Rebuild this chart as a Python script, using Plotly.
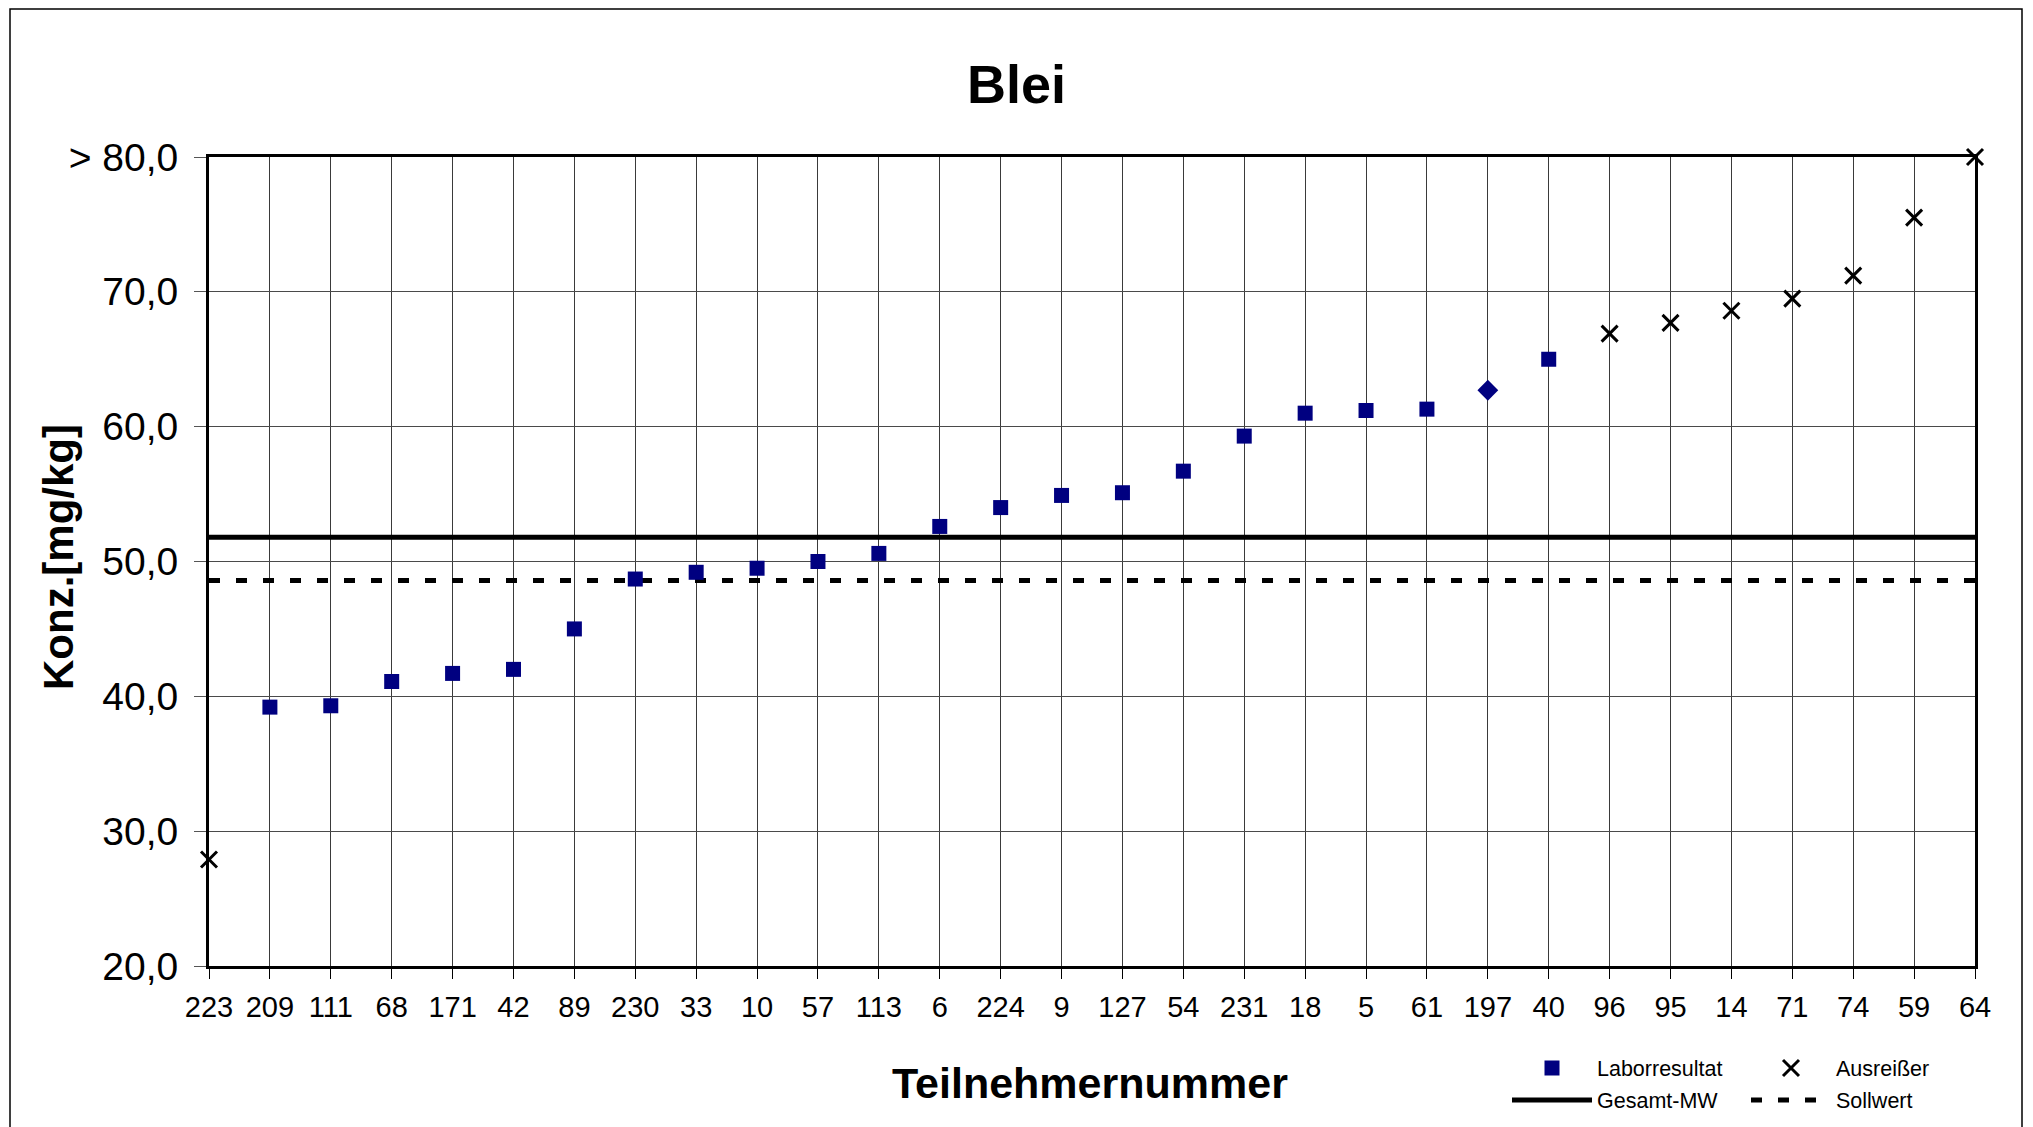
import plotly.graph_objects as go

# ---- data ----
teilnehmer = ["223", "209", "111", "68", "171", "42", "89", "230", "33", "10",
              "57", "113", "6", "224", "9", "127", "54", "231", "18", "5",
              "61", "197", "40", "96", "95", "14", "71", "74", "59", "64"]
werte = [27.9, 39.2, 39.3, 41.1, 41.7, 42.0, 45.0, 48.7, 49.2, 49.5,
         50.0, 50.6, 52.6, 54.0, 54.9, 55.1, 56.7, 59.3, 61.0, 61.2,
         61.3, 62.7, 65.0, 66.9, 67.7, 68.6, 69.5, 71.2, 75.5, 80.0]
# L = Laborresultat, A = Ausreißer, D = Laborresultat (Raute)
status = ["A", "L", "L", "L", "L", "L", "L", "L", "L", "L",
          "L", "L", "L", "L", "L", "L", "L", "L", "L", "L",
          "L", "D", "L", "A", "A", "A", "A", "A", "A", "A"]
gesamt_mw = 51.8
sollwert = 48.6
y_tickvals = [20, 30, 40, 50, 60, 70, 80]
y_ticktext = ["20,0", "30,0", "40,0", "50,0", "60,0", "70,0", "> 80,0"]

FONT = "Liberation Sans, Arial, sans-serif"
NAVY = "#000080"

OFF = 8                      # page (body) margin in the browser
W, H = 2033 - OFF, 1127 - OFF
# plot area in window pixels: x 209..1975, y 157..966
L, R = 209 - OFF, 2033 - 1975
T, B = 157 - OFF, 1127 - 966
pw, ph = W - L - R, H - T - B


def px_x(x):  # window px -> paper
    return (x - OFF - L) / pw


def px_y(y):
    return (H - B - (y - OFF)) / ph


def pick(code):
    xs = [t for t, s in zip(teilnehmer, status) if s == code]
    ys = [v for v, s in zip(werte, status) if s == code]
    return xs, ys


fig = go.Figure()

# reference lines
fig.add_trace(go.Scatter(
    x=[teilnehmer[0], teilnehmer[-1]], y=[gesamt_mw, gesamt_mw],
    mode="lines", name="Gesamt-MW", legend="legend2",
    line=dict(color="black", width=5), cliponaxis=False))
fig.add_trace(go.Scatter(
    x=[teilnehmer[0], teilnehmer[-1]], y=[sollwert, sollwert],
    mode="lines", name="Sollwert", legend="legend2",
    line=dict(color="black", width=5, dash="11px,16px"), cliponaxis=False))

lx, ly = pick("L")
fig.add_trace(go.Scatter(
    x=lx, y=ly, mode="markers", name="Laborresultat", legend="legend",
    marker=dict(symbol="square", size=15, color=NAVY, line=dict(width=0)),
    cliponaxis=False))
dx, dy = pick("D")
fig.add_trace(go.Scatter(
    x=dx, y=dy, mode="markers", name="Laborresultat", showlegend=False,
    marker=dict(symbol="diamond", size=16, color=NAVY, line=dict(width=0)),
    cliponaxis=False))
ax, ay = pick("A")
fig.add_trace(go.Scatter(
    x=ax, y=ay, mode="markers", name="Ausreißer", legend="legend",
    marker=dict(symbol="x-thin-open", size=16, color="black",
                line=dict(width=3, color="black")),
    cliponaxis=False))

fig.update_xaxes(
    type="category", categoryorder="array", categoryarray=teilnehmer,
    range=[0, len(teilnehmer) - 1],
    showgrid=True, gridcolor="#3a3a3a", gridwidth=1,
    showline=True, linecolor="black", linewidth=3, mirror=True,
    ticks="outside", ticklen=10, tickcolor="black", tickwidth=1,
    tickfont=dict(family=FONT, size=29, color="black"),
    ticklabelstandoff=3, zeroline=False)
fig.update_yaxes(
    range=[20, 80], tickvals=y_tickvals, ticktext=y_ticktext,
    showgrid=True, gridcolor="#4a4a4a", gridwidth=1,
    showline=True, linecolor="black", linewidth=3, mirror=True,
    ticks="outside", ticklen=12, tickcolor="#555555", tickwidth=1,
    tickfont=dict(family=FONT, size=39, color="black"),
    ticklabelstandoff=8, zeroline=False)

legend_common = dict(
    orientation="h", xanchor="left", yanchor="middle",
    font=dict(family=FONT, size=21.5, color="black"),
    bgcolor="rgba(0,0,0,0)", borderwidth=0,
    entrywidthmode="pixels", entrywidth=144, itemwidth=80,
    traceorder="normal")

fig.update_layout(
    width=W, height=H,
    margin=dict(l=L, r=R, t=T, b=B, autoexpand=False),
    paper_bgcolor="white", plot_bgcolor="white",
    font=dict(family=FONT, color="black"),
    showlegend=True,
    legend=dict(x=px_x(1507), y=px_y(1068), **legend_common),
    legend2=dict(x=px_x(1507), y=px_y(1100), **legend_common),
    annotations=[
        dict(text="<b>Blei</b>", xref="paper", yref="paper",
             x=px_x(1016), y=px_y(84), xanchor="center", yanchor="middle",
             showarrow=False, font=dict(family=FONT, size=54, color="black")),
        dict(text="<b>Teilnehmernummer</b>", xref="paper", yref="paper",
             x=px_x(1090), y=px_y(1083), xanchor="center", yanchor="middle",
             showarrow=False, font=dict(family=FONT, size=43, color="black")),
        dict(text="<b>Konz.[mg/kg]</b>", xref="paper", yref="paper",
             x=px_x(58), y=px_y(557), xanchor="center", yanchor="middle",
             textangle=-90, showarrow=False,
             font=dict(family=FONT, size=42, color="black")),
    ],
    shapes=[
        dict(type="rect", xref="paper", yref="paper",
             x0=px_x(10), x1=px_x(2022), y0=px_y(1140), y1=px_y(9),
             line=dict(color="black", width=1.5), layer="below"),
    ],
)

fig.write_html("out.html")
